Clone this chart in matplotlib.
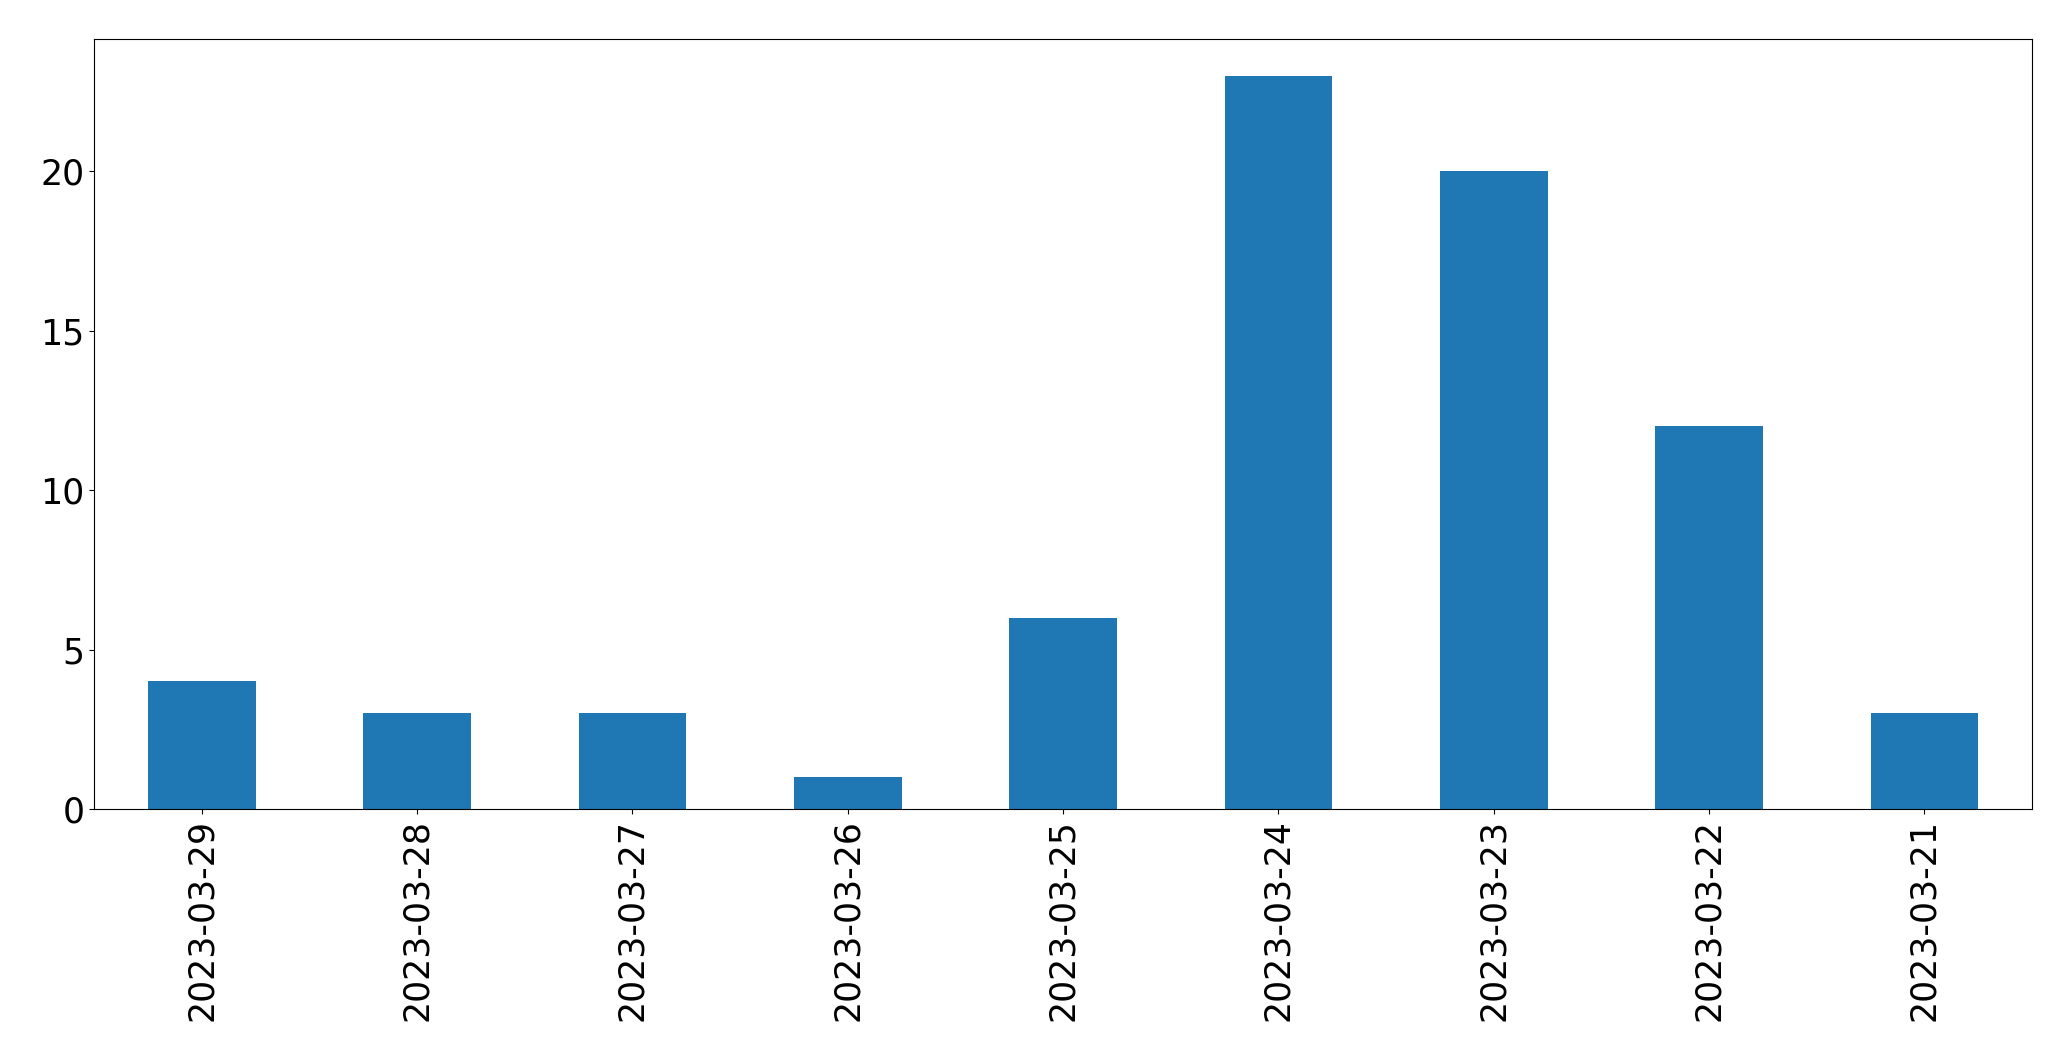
import matplotlib
matplotlib.use('Agg')
import matplotlib.pyplot as plt
import pandas as pd

# 数据
dates = ['2023-03-29', '2023-03-28', '2023-03-27', '2023-03-26', '2023-03-25',
         '2023-03-24', '2023-03-23', '2023-03-22', '2023-03-21']
counts = [4, 3, 3, 1, 6, 23, 20, 12, 3]

s = pd.Series(counts, index=dates)

fig = plt.figure(figsize=(20.71, 10.61), dpi=100)
ax = fig.add_axes([0.0454, 0.2375, 0.9358, 0.7257])
s.plot(kind='bar', ax=ax, color='#1f77b4', fontsize=25)

plt.savefig('out.png', dpi=100)
